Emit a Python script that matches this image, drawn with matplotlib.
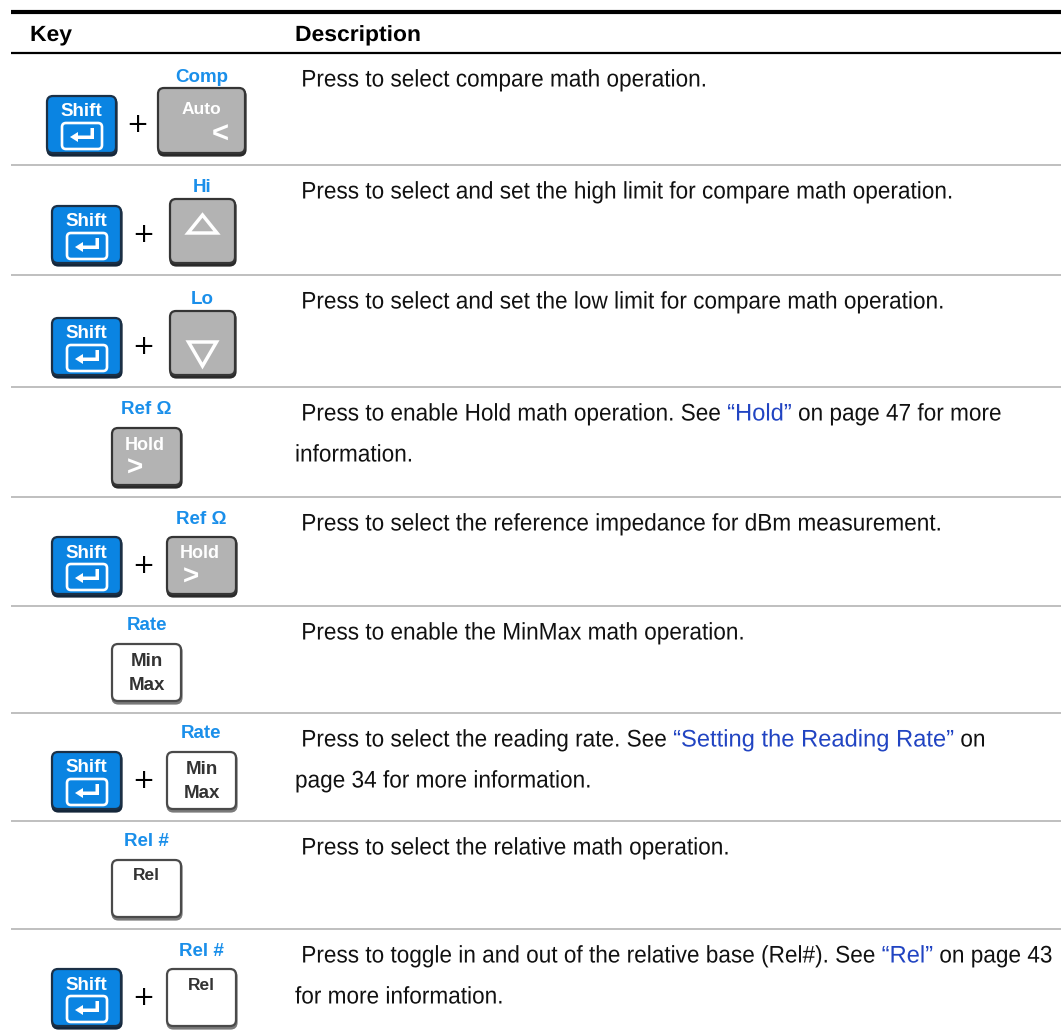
import matplotlib
matplotlib.use("Agg")
import matplotlib.pyplot as plt
from matplotlib.patches import FancyBboxPatch, Polygon, PathPatch
from matplotlib.font_manager import FontProperties
from matplotlib.textpath import TextPath
from matplotlib.transforms import Affine2D

# ---------------- data ----------------
headers = ["Key", "Description"]
uses_shift = [True, True, True, False, True, False, True, False, True]
top_labels = ["Comp", "Hi", "Lo", "Ref Ω", "Ref Ω", "Rate", "Rate", "Rel #", "Rel #"]
key_faces = ["auto", "up", "down", "hold", "hold", "minmax", "minmax", "rel", "rel"]
desc_lines = [
    [[(" Press to select compare math operation.", False)]],
    [[(" Press to select and set the high limit for compare math operation.", False)]],
    [[(" Press to select and set the low limit for compare math operation.", False)]],
    [[(" Press to enable Hold math operation. See ", False), ("“Hold”", True), (" on page 47 for more", False)],
     [("information.", False)]],
    [[(" Press to select the reference impedance for dBm measurement.", False)]],
    [[(" Press to enable the MinMax math operation.", False)]],
    [[(" Press to select the reading rate. See ", False), ("“Setting the Reading Rate”", True), (" on", False)],
     [("page 34 for more information.", False)]],
    [[(" Press to select the relative math operation.", False)]],
    [[(" Press to toggle in and out of the relative base (Rel#). See ", False), ("“Rel”", True), (" on page 43", False)],
     [("for more information.", False)]],
]

# ---------------- layout / style ----------------
W, H = 1061, 1031
row_tops = [53, 165, 275, 387, 497, 606, 713, 821, 929]
KEYF = ["Liberation Sans", "DejaVu Sans"]
BLUE = "#0a84e2"
BLUE_EDGE = "#1b3046"
LABEL_BLUE = "#1a8fea"
LINK = "#2144c2"
GRAY_FILL = "#b3b3b3"
GRAY_EDGE = "#353535"

fig = plt.figure(figsize=(W / 100, H / 100), dpi=100)
ax = fig.add_axes([0, 0, 1, 1])
ax.set_xlim(0, W)
ax.set_ylim(H, 0)
ax.axis("off")

FP_REG = FontProperties(family="Liberation Sans", weight="normal")
FP_BOLD = FontProperties(family="Liberation Sans", weight="bold")


def ink_x1(s, size, fp):
    return TextPath((0, 0), s, size=size, prop=fp).get_extents().x1


def advance(s, size, fp, sx):
    return (ink_x1(s + "|", size, fp) - ink_x1("|", size, fp)) * sx


def ink_width(s, size, fp):
    e = TextPath((0, 0), s, size=size, prop=fp).get_extents()
    return e.x1 - e.x0


def draw_path_text(x, baseline, s, size, fp, sx, color):
    tp = TextPath((0, 0), s, size=size, prop=fp)
    tr = Affine2D().scale(sx, -1).translate(x, baseline)
    ax.add_patch(PathPatch(tr.transform_path(tp), fc=color, ec="none", lw=0, zorder=4))


# condensed text: horizontal squeeze calibrated to reference widths
BODY_SIZE = 24.0
sx_body = 0.98 * 410.0 / ink_width("Press to select compare math operation.", BODY_SIZE, FP_REG)
sx_link = sx_body * 1.05
HEAD_SIZE = 22.0
sx_head = 123.0 / ink_width("Description", HEAD_SIZE, FP_BOLD)


def keycap(x0, top, w, h, fill, edge, shadow):
    ax.add_patch(FancyBboxPatch((x0 + 0.5, top + 1.5), w, h - 1, boxstyle="round,pad=0,rounding_size=6",
                                fc=shadow, ec=shadow, lw=1.6, zorder=2))
    ax.add_patch(FancyBboxPatch((x0, top), w, h - 2, boxstyle="round,pad=0,rounding_size=6",
                                fc=fill, ec=edge, lw=1.6, zorder=3))


def shift_key(x0, bottom):
    w, h = 69, 59
    top = bottom - h
    keycap(x0, top, w, h, BLUE, BLUE_EDGE, "#14263a")
    ax.text(x0 + w / 2, top + 16, "Shift", color="white", fontsize=13.5, fontweight="bold",
            family=KEYF, ha="center", va="center", zorder=5)
    ax.add_patch(FancyBboxPatch((x0 + 15, top + 27), 40, 26, boxstyle="round,pad=0,rounding_size=4",
                                fc="none", ec="white", lw=1.9, zorder=5))
    ax.add_patch(Polygon([(x0 + 23, top + 41), (x0 + 31, top + 36), (x0 + 31, top + 39.5),
                          (x0 + 43.5, top + 39.5), (x0 + 43.5, top + 32), (x0 + 47, top + 32),
                          (x0 + 47, top + 43), (x0 + 31, top + 43), (x0 + 31, top + 46)],
                         closed=True, fc="white", ec="none", zorder=5))


def face_key(face, x0, bottom):
    if face == "auto":
        w, h = 87, 67
    elif face in ("up", "down"):
        w, h = 65, 66
    else:
        w, h = 69, 59
    top = bottom - h
    if face in ("minmax", "rel"):
        keycap(x0, top, w, h, "white", "#4a4a4a", "#7a7a7a")
    else:
        keycap(x0, top, w, h, GRAY_FILL, GRAY_EDGE, "#2a2a2a")
    cx = x0 + w / 2
    kw = dict(family=KEYF, fontweight="bold", ha="center", va="center", zorder=5)
    if face == "auto":
        ax.text(cx, top + 21, "Auto", color="white", fontsize=12.5, **kw)
        ax.text(x0 + 62, top + 47, "<", color="white", fontsize=21, **kw)
    elif face == "up":
        ax.add_patch(Polygon([(x0 + 18, top + 34), (x0 + 32.5, top + 16), (x0 + 47, top + 34)], closed=True,
                             fc="none", ec="white", lw=2.5, joinstyle="miter", zorder=5))
    elif face == "down":
        ax.add_patch(Polygon([(x0 + 18.5, top + 31), (x0 + 46.5, top + 31), (x0 + 32.5, top + 55)], closed=True,
                             fc="none", ec="white", lw=2.5, joinstyle="miter", zorder=5))
    elif face == "hold":
        ax.text(x0 + 33, top + 17, "Hold", color="white", fontsize=13, **kw)
        ax.text(x0 + 23.5, top + 41, ">", color="white", fontsize=20, **kw)
    elif face == "minmax":
        ax.text(cx, top + 18, "Min", color="#333333", fontsize=13.5, **kw)
        ax.text(cx, top + 41, "Max", color="#333333", fontsize=13.5, **kw)
    elif face == "rel":
        ax.text(cx, top + 16, "Rel", color="#333333", fontsize=12.5, **kw)
    return cx


# header
ax.plot([11, W], [12, 12], color="black", lw=3.0, solid_capstyle="butt")
ax.plot([11, W], [53, 53], color="black", lw=1.6, solid_capstyle="butt")
draw_path_text(30, 41, headers[0], HEAD_SIZE, FP_BOLD, sx_head, "black")
draw_path_text(295, 41, headers[1], HEAD_SIZE, FP_BOLD, sx_head, "black")

# separators
for yt in row_tops[1:]:
    ax.plot([11, W], [yt, yt], color="#b4b4b4", lw=1.2, solid_capstyle="butt")

CAP = 17.0
for i in range(len(row_tops)):
    top = row_tops[i]
    bottom = (row_tops[i + 1] - 10) if i + 1 < len(row_tops) else 1028
    first = (i == 0)
    if uses_shift[i]:
        sx = 47 if first else 52
        shift_key(sx, bottom)
        ax.text(137 if first else 143, bottom - 30, "+", fontsize=19, family="DejaVu Sans",
                ha="center", va="center", color="black")
        kx = 158 if first else (170 if key_faces[i] in ("up", "down") else 167)
    else:
        kx = 112
    cx = face_key(key_faces[i], kx, bottom)
    ax.text(cx, bottom - 77, top_labels[i], color=LABEL_BLUE, fontsize=13.5, fontweight="bold",
            family=KEYF, ha="center", va="center")
    # description
    for j, line in enumerate(desc_lines[i]):
        base = top + 25 + 41 * j + CAP / 2
        x = 295
        for txt, link in line:
            s = sx_link if link else sx_body
            draw_path_text(x, base, txt, BODY_SIZE, FP_REG, s, LINK if link else "#111111")
            x += advance(txt, BODY_SIZE, FP_REG, s)

fig.savefig("out.png", dpi=100)
